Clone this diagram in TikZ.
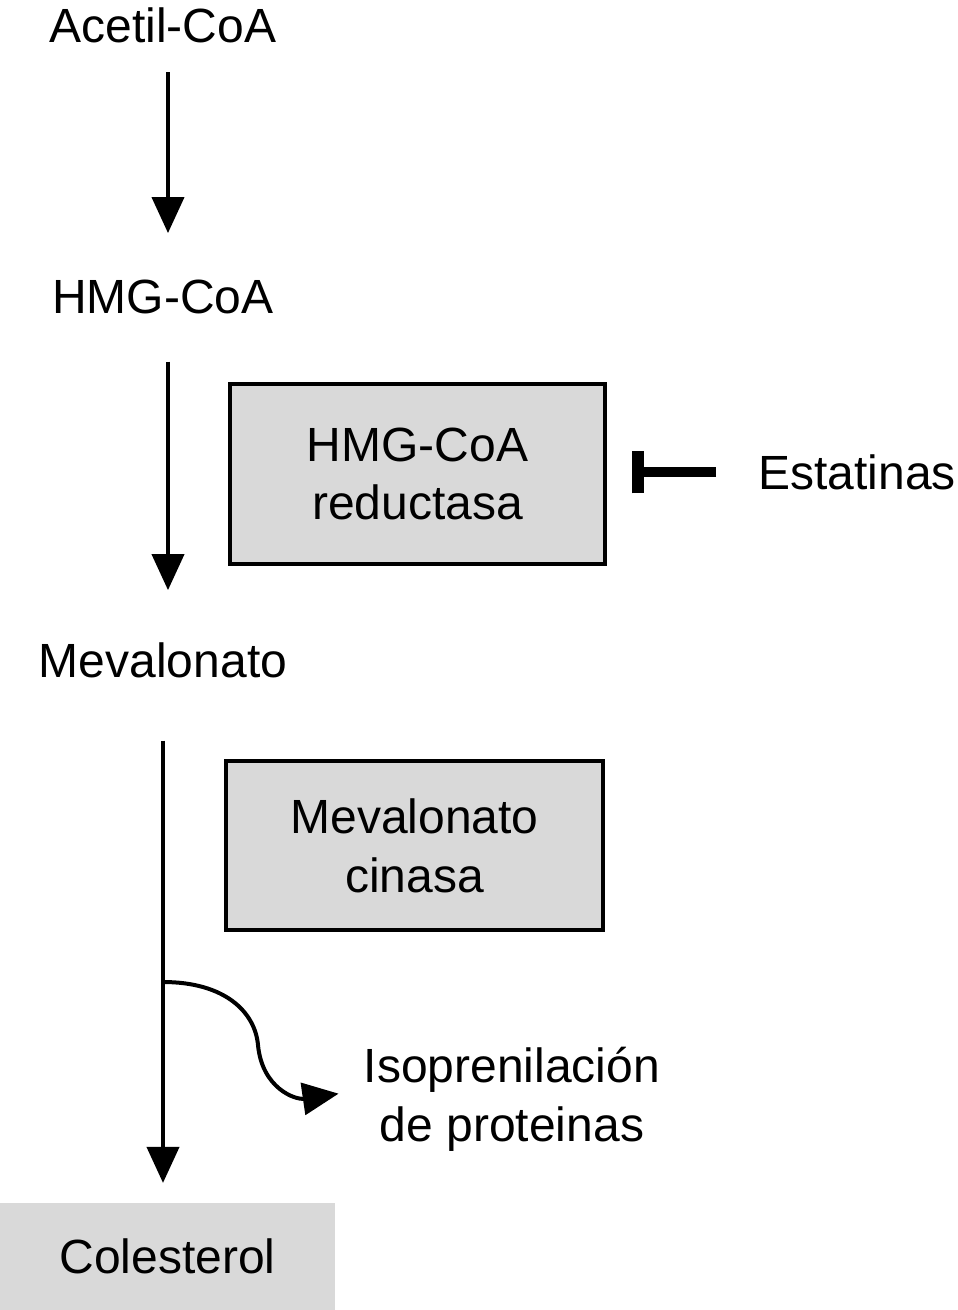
\documentclass[tikz,border=0pt]{standalone}
\usepackage{fontspec}
\setmainfont{Liberation Sans}
\usetikzlibrary{arrows.meta}
\definecolor{boxgray}{RGB}{217,217,217}

\begin{document}
\begin{tikzpicture}[x=0.75pt,y=0.75pt,yscale=-1,xscale=1,
  lbl/.style={inner sep=0pt, font=\fontsize{36}{44}\selectfont, align=center},
  enzbox/.style={lbl, draw=black, line width=3pt, fill=boxgray},
  arr/.style={line width=3pt, -{Triangle[width=24pt,length=27pt]}},
  inhib/.style={line width=8pt, -{Bar[width=32pt,line width=9pt]}}]
\useasboundingbox (0,0) rectangle (957,1310);

% Text Node
\node[lbl] (acetil) at (163,25) {Acetil-CoA};
% Text Node
\node[lbl] (hmg) at (163,297) {HMG-CoA};
% Text Node
\node[lbl] (meval) at (163,660) {Mevalonato};
% Text Node
\node[lbl] (estat) at (857,472) {Estatinas};
% Text Node
\node[lbl] (iso) at (512,1099) {Isoprenilación\\de proteinas};

%Shape: Rectangle
\node[enzbox, minimum width=281pt, minimum height=135pt] (reduct) at (417.5,474) {HMG-CoA\\reductasa};
%Shape: Rectangle
\node[enzbox, minimum width=283pt, minimum height=127pt] (cinasa) at (414.5,845.5) {Mevalonato\\cinasa};
%Shape: Rectangle
\node[lbl, fill=boxgray, minimum width=251pt, minimum height=80pt] (coles) at (167.5,1256.5) {Colesterol};

%Straight Lines
\draw[arr, shorten <=22pt, shorten >=35pt] ([xshift=3.75pt]acetil.south) -- ([xshift=3.75pt]hmg.north);
%Straight Lines
\draw[arr, shorten <=35.6pt, shorten >=39pt] ([xshift=3.75pt]hmg.south) -- ([xshift=3.75pt]meval.north);
%Straight Lines
\draw[arr, shorten <=47pt, shorten >=15pt] (meval.south) -- (meval.south |- coles.north);

%Curve Lines
\coordinate (branch) at (163,982);
\draw[arr, shorten >=19pt] (branch) .. controls (225,982) and (255,1012) .. (258,1045) .. controls (262,1088) and (295,1100) .. ([yshift=-6.75pt]iso.west);

%Straight Lines
\draw[inhib, shorten <=31.5pt, shorten >=19pt] (estat.west) -- (estat.west -| reduct.east);

\end{tikzpicture}
\end{document}
